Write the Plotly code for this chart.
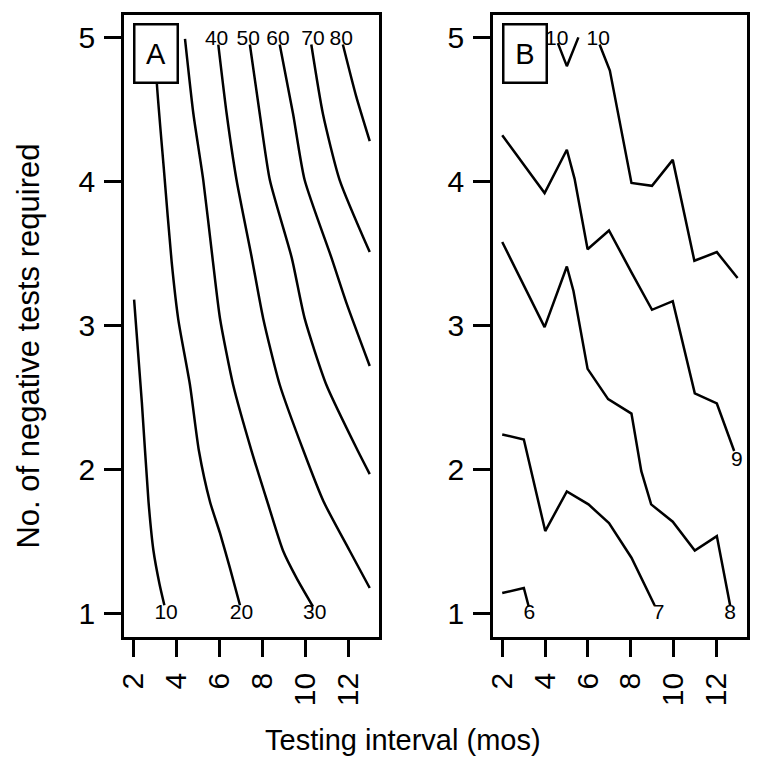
import plotly.graph_objects as go

# ---------------- data ----------------
# Panel A contour lines (levels 10..80)
a_levels = [10, 20, 30, 40, 50, 60, 70, 80]
a_x = [
    [2.03, 2.39, 2.70, 2.93, 3.21, 3.44],
    [3.01, 3.09, 3.43, 3.78, 4.09, 4.63, 5.05, 5.56, 6.03, 6.49, 6.96],
    [4.40, 4.79, 5.25, 5.68, 6.03, 6.64, 7.50, 8.23, 8.96, 9.59, 10.36],
    [5.95, 6.34, 6.80, 7.51, 8.04, 8.81, 9.92, 10.85, 12.06, 13.0],
    [7.42, 7.88, 8.35, 9.37, 9.97, 10.98, 12.45, 13.0],
    [8.81, 9.43, 9.97, 11.22, 11.91, 13.0],
    [10.28, 10.82, 11.60, 13.0],
    [11.75, 12.37, 13.0],
]
a_y = [
    [3.18, 2.47, 1.78, 1.44, 1.21, 1.06],
    [5.0, 4.68, 4.06, 3.44, 3.04, 2.59, 2.13, 1.78, 1.56, 1.32, 1.06],
    [4.99, 4.47, 4.01, 3.47, 3.05, 2.59, 2.13, 1.78, 1.44, 1.25, 1.05],
    [4.95, 4.47, 4.01, 3.47, 3.05, 2.59, 2.13, 1.78, 1.44, 1.18],
    [4.95, 4.47, 4.01, 3.47, 3.05, 2.59, 2.13, 1.97],
    [4.95, 4.47, 4.01, 3.47, 3.16, 2.72],
    [4.95, 4.47, 4.01, 3.51],
    [4.95, 4.59, 4.28],
]
a_label_x = [3.52, 7.03, 10.44, 5.87, 7.34, 8.73, 10.36, 11.67]
a_label_y = [1.0, 1.0, 1.0, 4.98, 4.98, 4.98, 4.98, 4.98]

# Panel B contour lines (levels 6..10)
b_levels = [6, 7, 8, 9, 10, 10]
b_x = [
    [2.0, 3.01, 3.24],
    [2.0, 3.01, 4.01, 5.02, 6.03, 6.99, 8.04, 9.12],
    [2.0, 3.98, 5.02, 5.33, 5.99, 6.95, 8.04, 8.50, 8.96, 9.97, 11.0, 12.03, 12.65],
    [2.0, 3.98, 5.02, 5.38, 5.99, 6.99, 8.04, 9.0, 9.97, 11.0, 12.03, 12.84],
    [4.60, 5.02, 5.56],
    [6.55, 7.03, 8.04, 9.0, 9.97, 10.98, 12.03, 13.0],
]
b_y = [
    [1.145, 1.18, 1.05],
    [2.245, 2.21, 1.575, 1.85, 1.76, 1.63, 1.39, 1.06],
    [3.58, 2.99, 3.41, 3.24, 2.70, 2.49, 2.39, 1.99, 1.76, 1.64, 1.44, 1.54, 1.06],
    [4.32, 3.92, 4.22, 4.02, 3.53, 3.66, 3.37, 3.11, 3.17, 2.53, 2.46, 2.13],
    [4.96, 4.80, 5.0],
    [4.95, 4.77, 3.99, 3.97, 4.15, 3.45, 3.51, 3.33],
]
b_label_x = [3.27, 9.31, 12.65, 12.96, 4.55, 6.49]
b_label_y = [1.0, 1.0, 1.0, 2.06, 4.98, 4.98]

x_ticks = [2, 4, 6, 8, 10, 12]
y_ticks = [1, 2, 3, 4, 5]
x_title = "Testing interval (mos)"
y_title = "No. of negative tests required"
panel_names = ["A", "B"]

FONT = "Liberation Sans, Arial, sans-serif"
LW = 2.5

fig = go.Figure()

for xs, ys in zip(a_x, a_y):
    fig.add_trace(go.Scatter(x=xs, y=ys, mode="lines", xaxis="x", yaxis="y",
                             line=dict(color="black", width=LW, shape="spline", smoothing=0.6),
                             hoverinfo="skip", showlegend=False))
for xs, ys in zip(b_x, b_y):
    fig.add_trace(go.Scatter(x=xs, y=ys, mode="lines", xaxis="x2", yaxis="y2",
                             line=dict(color="black", width=LW),
                             hoverinfo="skip", showlegend=False))

# contour labels
fig.add_trace(go.Scatter(x=a_label_x, y=a_label_y, mode="text", xaxis="x", yaxis="y",
                         text=[str(v) for v in a_levels],
                         textfont=dict(size=21, color="black", family=FONT),
                         textposition="middle center", hoverinfo="skip", showlegend=False))
fig.add_trace(go.Scatter(x=b_label_x, y=b_label_y, mode="text", xaxis="x2", yaxis="y2",
                         text=[str(v) for v in b_levels],
                         textfont=dict(size=21, color="black", family=FONT),
                         textposition="middle center", hoverinfo="skip", showlegend=False))

axis_common = dict(showline=True, linecolor="black", linewidth=LW, mirror=True,
                   ticks="outside", ticklen=17, tickwidth=LW, tickcolor="black",
                   showgrid=False, zeroline=False,
                   tickfont=dict(size=30, color="black", family=FONT))

fig.update_layout(
    width=762, height=769,
    margin=dict(l=124, r=13, t=12, b=132),
    plot_bgcolor="white", paper_bgcolor="white",
    font=dict(family=FONT, color="black"),
    xaxis=dict(domain=[0, 0.4096], range=[1.56, 13.44], tickvals=x_ticks,
               tickangle=-90, anchor="y", ticklabelstandoff=4, **axis_common),
    yaxis=dict(domain=[0, 1], range=[0.84, 5.155], tickvals=y_ticks,
               anchor="x", ticklabelstandoff=3, **axis_common),
    xaxis2=dict(domain=[0.592, 1.0], range=[1.56, 13.44], tickvals=x_ticks,
                tickangle=-90, anchor="y2", ticklabelstandoff=4, **axis_common),
    yaxis2=dict(domain=[0, 1], range=[0.84, 5.155], tickvals=y_ticks,
                anchor="x2", ticklabelstandoff=3, **axis_common),
)

# panel letter boxes
for xr, yr, name in [("x domain", "y domain", panel_names[0]),
                     ("x2 domain", "y2 domain", panel_names[1])]:
    fig.add_annotation(xref=xr, yref=yr, x=0.036, y=0.987, xanchor="left", yanchor="top",
                       text=name, showarrow=False, width=41, height=56,
                       bgcolor="white", bordercolor="black", borderwidth=2.5, borderpad=0,
                       font=dict(size=29, color="black", family=FONT))

# axis titles
fig.add_annotation(xref="paper", yref="paper", x=0.448, y=-0.166, xanchor="center",
                   yanchor="middle", text=x_title, showarrow=False,
                   font=dict(size=29, color="black", family=FONT))
fig.add_annotation(xref="paper", yref="paper", x=-0.1536, y=0.4675, xanchor="center",
                   yanchor="middle", text=y_title, textangle=-90, showarrow=False,
                   font=dict(size=31, color="black", family=FONT))

fig.write_html("out.html", config={"displayModeBar": False},
               post_script="document.body.style.margin='0';")
